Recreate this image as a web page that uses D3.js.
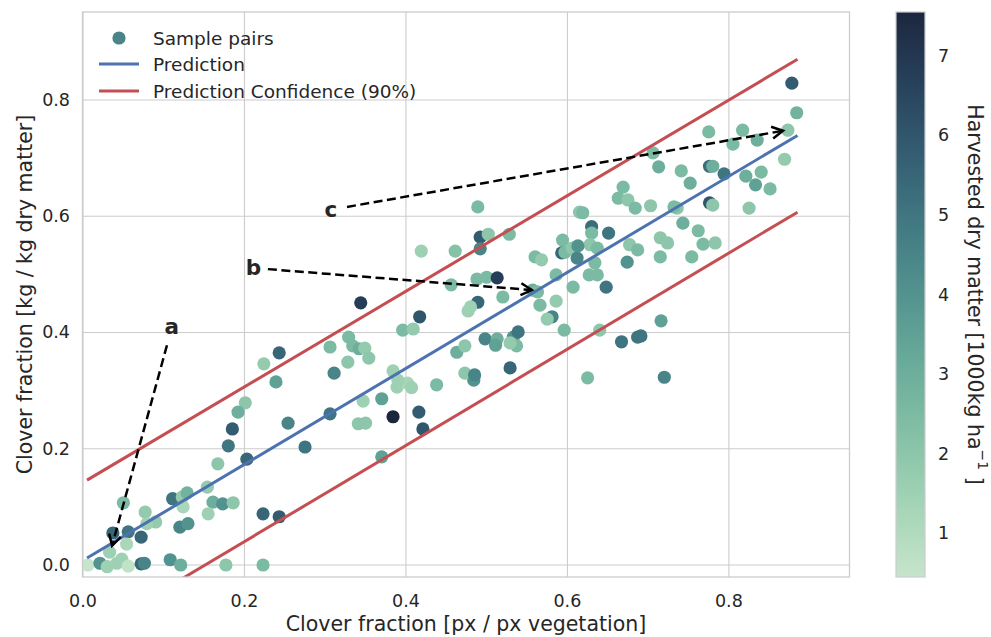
<!DOCTYPE html>
<html><head><meta charset="utf-8">
<script src="https://cdn.jsdelivr.net/npm/d3@7"></script>
<style>
body{margin:0;background:#fff}
text{font-family:"DejaVu Sans",sans-serif;fill:#262626}
</style>
</head><body>
<svg id="chart" width="991" height="637"></svg>
<script>
// ---------------- data ----------------
const xTicks = [0, 0.2, 0.4, 0.6, 0.8];
const yTicks = [0, 0.2, 0.4, 0.6, 0.8];
const cbTicks = [1, 2, 3, 4, 5, 6, 7];

// clover fraction from images [px / px vegetation]
const cloverPx = [
0.050,0.077,0.111,0.123,0.129,0.154,0.161,0.173,0.186,0.155,0.124,0.090,0.079,0.037,0.056,0.072,0.054,0.033,0.120,0.130,
0.223,0.243,0.006,0.021,0.030,0.042,0.048,0.056,0.072,0.076,0.108,0.121,0.177,0.223,0.243,0.224,0.239,0.201,0.192,0.185,
0.180,0.254,0.203,0.167,0.275,0.306,0.347,0.370,0.384,0.416,0.421,0.341,0.350,0.370,0.389,0.402,0.407,0.438,0.484,0.489,
0.492,0.502,0.492,0.528,0.419,0.461,0.488,0.500,0.513,0.456,0.344,0.489,0.520,0.477,0.480,0.417,0.396,0.409,0.329,0.306,
0.334,0.342,0.349,0.354,0.328,0.311,0.384,0.390,0.463,0.473,0.498,0.513,0.511,0.533,0.539,0.537,0.529,0.473,0.485,0.529,
0.560,0.568,0.586,0.594,0.593,0.597,0.606,0.612,0.615,0.557,0.566,0.586,0.581,0.575,0.607,0.596,0.563,0.630,0.630,0.651,
0.628,0.637,0.634,0.627,0.637,0.648,0.674,0.677,0.687,0.640,0.667,0.687,0.625,0.720,0.716,0.878,0.884,0.873,0.869,0.817,
0.775,0.805,0.835,0.706,0.713,0.776,0.780,0.741,0.752,0.794,0.821,0.840,0.833,0.851,0.669,0.663,0.675,0.684,0.703,0.736,
0.732,0.776,0.780,0.825,0.619,0.743,0.762,0.768,0.783,0.715,0.724,0.715,0.754,0.691,0.613
];
// clover fraction from harvest [kg / kg dry matter]
const cloverDm = [
0.107,0.091,0.114,0.117,0.124,0.134,0.108,0.105,0.107,0.088,0.100,0.074,0.071,0.055,0.057,0.048,0.036,0.022,0.065,0.071,
0.088,0.083,0.000,0.003,-0.003,0.003,0.010,-0.002,0.002,0.003,0.009,0.000,0.000,0.000,0.365,0.346,0.315,0.279,0.263,0.234,
0.205,0.244,0.182,0.174,0.203,0.260,0.282,0.286,0.255,0.263,0.234,0.243,0.244,0.186,0.306,0.313,0.305,0.310,0.318,0.616,
0.564,0.569,0.544,0.569,0.540,0.540,0.492,0.495,0.494,0.482,0.451,0.452,0.461,0.437,0.444,0.427,0.404,0.406,0.392,0.375,
0.377,0.372,0.373,0.356,0.349,0.330,0.334,0.318,0.366,0.377,0.389,0.389,0.378,0.392,0.401,0.377,0.382,0.330,0.327,0.339,
0.530,0.525,0.499,0.559,0.537,0.538,0.545,0.528,0.607,0.473,0.447,0.454,0.427,0.423,0.478,0.404,0.470,0.582,0.571,0.571,
0.551,0.545,0.520,0.499,0.499,0.478,0.521,0.551,0.542,0.404,0.384,0.392,0.322,0.323,0.420,0.829,0.778,0.748,0.698,0.748,
0.745,0.724,0.731,0.709,0.685,0.686,0.686,0.678,0.657,0.673,0.669,0.676,0.654,0.647,0.650,0.631,0.628,0.614,0.618,0.614,
0.616,0.623,0.619,0.614,0.606,0.588,0.575,0.552,0.554,0.563,0.554,0.530,0.530,0.394,0.549
];
// harvested dry matter [1000 kg / ha]
const harvestDm = [
2.5,1.8,5.0,1.8,2.8,1.8,3.0,4.0,2.0,1.5,1.2,1.8,1.5,5.5,5.0,5.5,1.2,1.5,4.5,4.0,
5.5,5.8,0.45,4.0,1.5,1.5,1.5,0.6,5.5,4.5,4.0,3.0,2.0,2.5,5.5,1.8,3.5,2.0,3.0,5.8,
5.0,4.5,5.5,2.0,5.0,5.0,1.5,3.5,7.55,5.8,6.0,2.0,2.0,3.5,1.5,1.3,1.5,2.5,4.0,2.5,
5.8,2.0,4.5,2.5,1.5,2.2,2.5,2.5,6.8,2.5,6.8,5.5,2.5,1.5,1.5,6.0,2.5,1.8,2.5,2.5,
2.5,3.0,1.8,2.0,2.0,4.5,1.5,1.5,3.0,2.0,4.5,3.0,3.5,4.0,5.0,2.5,1.8,2.0,4.5,5.5,
2.5,1.8,2.5,2.5,5.5,2.5,2.0,4.5,2.0,3.0,2.5,1.8,4.5,1.8,2.5,2.5,2.5,5.3,2.5,5.0,
2.0,2.5,2.5,2.5,2.5,5.0,4.0,2.0,2.5,2.0,5.0,5.0,2.5,4.5,3.5,5.8,2.8,2.0,1.8,2.5,
2.5,2.5,3.0,2.5,3.0,5.3,3.0,2.5,3.0,5.0,3.0,2.5,3.5,2.5,2.5,2.5,2.0,2.5,2.0,2.0,
2.5,6.0,2.0,2.0,2.5,3.0,2.5,2.5,2.0,2.0,2.0,2.5,2.5,5.0,4.0
];

// regression line and 90 % prediction band
const lineX  = [0.005, 0.885];
const predY  = [0.012, 0.739];
const upperY = [0.146, 0.870];
const lowerY = [-0.121, 0.607];

// annotations
const annLabels = ["a", "b", "c"];
const annTextX  = [0.110, 0.211, 0.307];
const annTextY  = [0.411, 0.511, 0.611];
const annFromX  = [0.104, 0.229, 0.327];
const annFromY  = [0.378, 0.509, 0.616];
const annTipX   = [0.036, 0.556, 0.867];
const annTipY   = [0.033, 0.473, 0.747];

const legendLabels = ["Sample pairs", "Prediction", "Prediction Confidence (90%)"];

// ---------------- colormap (seaborn cubehelix_palette(rot=-.4)) ----------------
function cubehelix(x, start = 0, rot = -0.4, gamma = 1, hue = 0.8) {
  const xg = Math.pow(x, gamma);
  const a = hue * xg * (1 - xg) / 2;
  const phi = 2 * Math.PI * (start / 3 + rot * x);
  const c = Math.cos(phi), s = Math.sin(phi);
  const clip = v => Math.max(0, Math.min(1, v));
  const r = clip(xg + a * (-0.14861 * c + 1.78277 * s));
  const g = clip(xg + a * (-0.29227 * c - 0.90649 * s));
  const b = clip(xg + a * (1.97294 * c));
  return d3.rgb(r * 255, g * 255, b * 255).formatHex();
}
const cmap = t => cubehelix(0.85 - 0.7 * Math.max(0, Math.min(1, t)));

// ---------------- chart ----------------
const svg = d3.select("#chart");
const x = d3.scaleLinear().domain([0, 0.95]).range([83, 850]);
const y = d3.scaleLinear().domain([-0.02, 0.95]).range([576.6, 12.8]);
const [vmin, vmax] = d3.extent(harvestDm);
const cnorm = d3.scaleLinear().domain([vmin, vmax]).range([0, 1]);

const gridColor = "#cccccc";
const plotL = 82.5, plotR = 849.5, plotT = 12, plotB = 577;

// grid
const grid = svg.append("g");
grid.selectAll("line.vx").data(xTicks).join("line")
  .attr("x1", d => x(d)).attr("x2", d => x(d))
  .attr("y1", plotT).attr("y2", plotB)
  .attr("stroke", gridColor).attr("stroke-width", 1.1);
grid.selectAll("line.hy").data(yTicks).join("line")
  .attr("y1", d => y(d)).attr("y2", d => y(d))
  .attr("x1", plotL).attr("x2", plotR)
  .attr("stroke", gridColor).attr("stroke-width", 1.1);

// clip
svg.append("clipPath").attr("id", "clip").append("rect")
  .attr("x", plotL).attr("y", plotT).attr("width", plotR - plotL).attr("height", plotB - plotT);

const plot = svg.append("g").attr("clip-path", "url(#clip)");

// scatter
const pts = cloverPx.map((d, i) => ({ x: d, y: cloverDm[i], v: harvestDm[i] }));
plot.selectAll("circle.pt").data(pts).join("circle")
  .attr("cx", d => x(d.x)).attr("cy", d => y(d.y)).attr("r", 6.6)
  .attr("fill", d => cmap(cnorm(d.v)));

// lines
const line = d3.line().x(d => x(d[0])).y(d => y(d[1]));
plot.append("path").attr("d", line(lineX.map((v, i) => [v, upperY[i]])))
  .attr("stroke", "#c44e52").attr("stroke-width", 3).attr("fill", "none");
plot.append("path").attr("d", line(lineX.map((v, i) => [v, lowerY[i]])))
  .attr("stroke", "#c44e52").attr("stroke-width", 3).attr("fill", "none");
plot.append("path").attr("d", line(lineX.map((v, i) => [v, predY[i]])))
  .attr("stroke", "#4c72b0").attr("stroke-width", 3).attr("fill", "none");

// annotations
annLabels.forEach((lab, i) => {
  const x0 = x(annFromX[i]), y0 = y(annFromY[i]);
  const x1 = x(annTipX[i]), y1 = y(annTipY[i]);
  svg.append("line").attr("x1", x0).attr("y1", y0).attr("x2", x1).attr("y2", y1)
    .attr("stroke", "#000").attr("stroke-width", 2.5).attr("stroke-dasharray", "9,4.5");
  const ang = Math.atan2(y1 - y0, x1 - x0);
  const L = 11, Wd = 6;
  const bx = x1 - L * Math.cos(ang), by = y1 - L * Math.sin(ang);
  const px = -Math.sin(ang) * Wd, py = Math.cos(ang) * Wd;
  svg.append("path")
    .attr("d", `M${bx + px},${by + py}L${x1},${y1}L${bx - px},${by - py}`)
    .attr("stroke", "#000").attr("stroke-width", 2.5).attr("fill", "none");
  svg.append("text").attr("x", x(annTextX[i])).attr("y", y(annTextY[i]))
    .attr("text-anchor", "middle").attr("dominant-baseline", "central")
    .attr("font-size", 21.5).attr("font-weight", "bold").text(lab);
});

// spines
svg.append("rect").attr("x", plotL).attr("y", plotT).attr("width", plotR - plotL).attr("height", plotB - plotT)
  .attr("fill", "none").attr("stroke", gridColor).attr("stroke-width", 1.3);

// tick labels
svg.selectAll("text.xt").data(xTicks).join("text")
  .attr("x", d => x(d)).attr("y", 601).attr("text-anchor", "middle")
  .attr("dominant-baseline", "central").attr("font-size", 17.5).text(d => d3.format(".1f")(d));
svg.selectAll("text.yt").data(yTicks).join("text")
  .attr("x", 70).attr("y", d => y(d)).attr("text-anchor", "end")
  .attr("dominant-baseline", "central").attr("font-size", 17.5).text(d => d3.format(".1f")(d));

// axis labels
svg.append("text").attr("x", (plotL + plotR) / 2).attr("y", 624)
  .attr("text-anchor", "middle").attr("dominant-baseline", "central")
  .attr("font-size", 20.5).text("Clover fraction [px / px vegetation]");
svg.append("text").attr("transform", `translate(25,${(plotT + plotB) / 2}) rotate(-90)`)
  .attr("text-anchor", "middle").attr("dominant-baseline", "central")
  .attr("font-size", 20.5).text("Clover fraction [kg / kg dry matter]");

// legend
const lg = svg.append("g");
lg.append("circle").attr("cx", 119).attr("cy", 38).attr("r", 6.6).attr("fill", cmap(cnorm(4.5)));
lg.append("line").attr("x1", 99).attr("x2", 139).attr("y1", 64).attr("y2", 64)
  .attr("stroke", "#4c72b0").attr("stroke-width", 3);
lg.append("line").attr("x1", 99).attr("x2", 139).attr("y1", 91).attr("y2", 91)
  .attr("stroke", "#c44e52").attr("stroke-width", 3);
lg.selectAll("text").data(legendLabels).join("text")
  .attr("x", 153).attr("y", (d, i) => [38, 64, 91][i])
  .attr("dominant-baseline", "central").attr("font-size", 18.5).text(d => d);

// colorbar
const cbX = 896, cbW = 29;
const cy = d3.scaleLinear().domain([vmin, vmax]).range([plotB, plotT]);
const defs = svg.append("defs");
const grad = defs.append("linearGradient").attr("id", "cbg")
  .attr("x1", 0).attr("y1", 1).attr("x2", 0).attr("y2", 0);
d3.range(0, 1.0001, 0.02).forEach(t => {
  grad.append("stop").attr("offset", t).attr("stop-color", cmap(t));
});
svg.append("rect").attr("x", cbX).attr("y", plotT).attr("width", cbW).attr("height", plotB - plotT)
  .attr("fill", "url(#cbg)").attr("stroke", "#cccccc").attr("stroke-width", 1.2);
svg.selectAll("text.cbt").data(cbTicks).join("text")
  .attr("x", 938).attr("y", d => cy(d)).attr("dominant-baseline", "central")
  .attr("font-size", 17.5).text(d => d);
const cbl = svg.append("text")
  .attr("transform", `translate(975,${(plotT + plotB) / 2}) rotate(90)`)
  .attr("text-anchor", "middle").attr("dominant-baseline", "central")
  .attr("font-size", 20.5);
cbl.append("tspan").text("Harvested dry matter [1000kg ha");
cbl.append("tspan").attr("font-size", 14).attr("dy", -8).text("\u22121");
cbl.append("tspan").attr("dy", 8).text(" ]");
</script>
</body></html>
